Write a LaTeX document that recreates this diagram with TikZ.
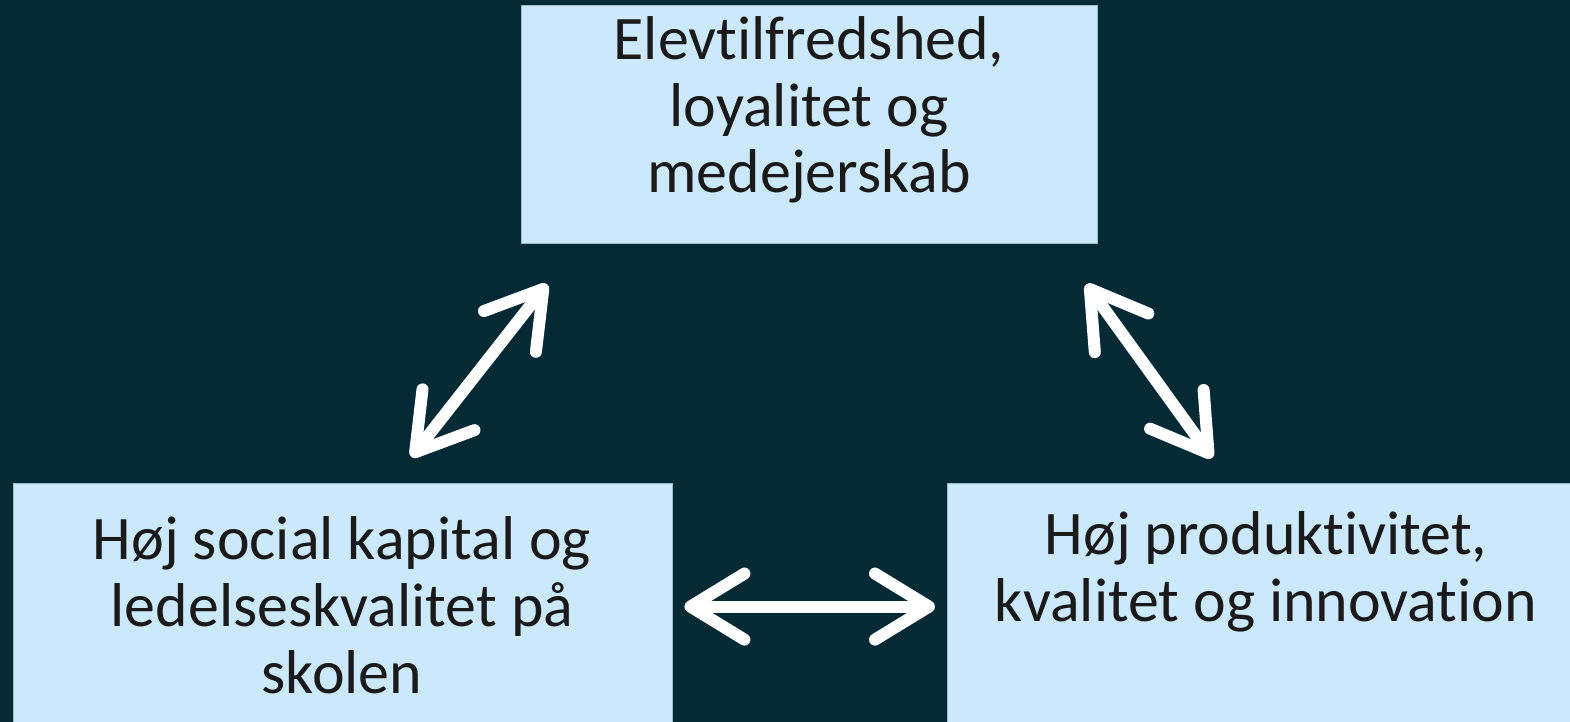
\documentclass[tikz,border=0pt]{standalone}
\usepackage{fontspec}
\setmainfont{Carlito}[Ligatures=NoCommon]
\usetikzlibrary{arrows.meta}
\definecolor{bgteal}{HTML}{042A36}
\definecolor{boxblue}{HTML}{CCE9FC}
\definecolor{txtgrey}{HTML}{1A1A1A}

\begin{document}
\begin{tikzpicture}[x=0.01cm, y=-0.01cm,
    box/.style={fill=boxblue, draw=boxblue!75!bgteal, line width=0.3pt, inner sep=0pt, anchor=north west},
    lbl/.style={text=txtgrey, align=center, font=\fontsize{17.6}{19}\selectfont, inner sep=0pt},
    twoway/.style={draw=white, line width=0.12cm, line cap=round,
      {Straight Barb[length=0.54cm, width=0.66cm, round]}-{Straight Barb[length=0.54cm, width=0.66cm, round]}}]
    \clip (0,0) rectangle (1570,722);
    \fill[bgteal] (0,0) rectangle (1570,722);

    % the three boxes
    \node[box, minimum width=5.76cm, minimum height=2.38cm] (top) at (521,5) {};
    \node[box, minimum width=6.59cm, minimum height=2.54cm] (left) at (13,483) {};
    \node[box, minimum width=6.40cm, minimum height=2.54cm] (right) at (947,483) {};

    \node[lbl] (toptxt) at (809,110) {Elevtilfredshed,\\loyalitet og\\medejerskab};
    \node[lbl] (lefttxt) at (342,605) {Høj social kapital og\\ledelseskvalitet på\\skolen};
    \node[lbl] (righttxt) at (1266,572) {Høj produktivitet,\\kvalitet og innovation};

    % arrows between them
    \draw[twoway] ([shift={(26,40)}]top.south west) -- ([shift={(-262,-26)}]left.north east);
    \draw[twoway] ([shift={(-12,40)}]top.south east) -- ([shift={(265,-25)}]right.north west);
    \draw[twoway] ([shift={(11,-4)}]left.east) -- ([shift={(-12,-4)}]right.west);
\end{tikzpicture}
\end{document}
